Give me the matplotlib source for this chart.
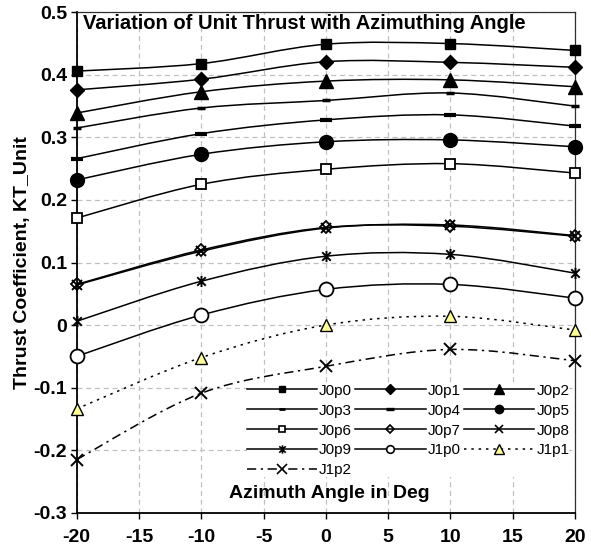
import matplotlib
matplotlib.use("Agg")
import matplotlib.pyplot as plt
import numpy as np
from matplotlib.path import Path
from matplotlib.patches import PathPatch
from matplotlib.lines import Line2D

plt.rcParams["font.family"] = ["Liberation Sans", "DejaVu Sans"]
plt.rcParams["axes.unicode_minus"] = False

# azimuth angle (deg) and thrust coefficient per advance ratio
angle = [-20, -10, 0, 10, 20]
J0p0 = [0.406, 0.418, 0.449, 0.450, 0.439]
J0p1 = [0.376, 0.393, 0.421, 0.420, 0.412]
J0p2 = [0.339, 0.373, 0.390, 0.392, 0.381]
J0p3 = [0.315, 0.347, 0.359, 0.371, 0.350]
J0p4 = [0.266, 0.306, 0.328, 0.336, 0.318]
J0p5 = [0.232, 0.273, 0.293, 0.296, 0.285]
J0p6 = [0.171, 0.225, 0.249, 0.258, 0.243]
J0p7 = [0.065, 0.120, 0.156, 0.158, 0.142]
J0p8 = [0.064, 0.118, 0.155, 0.160, 0.143]
J0p9 = [0.006, 0.070, 0.110, 0.113, 0.083]
J1p0 = [-0.050, 0.016, 0.057, 0.065, 0.043]
J1p1 = [-0.134, -0.052, 0.000, 0.014, -0.008]
J1p2 = [-0.215, -0.109, -0.066, -0.039, -0.057]

names = ["J0p0", "J0p1", "J0p2", "J0p3", "J0p4", "J0p5", "J0p6",
         "J0p7", "J0p8", "J0p9", "J1p0", "J1p1", "J1p2"]
series = [J0p0, J0p1, J0p2, J0p3, J0p4, J0p5, J0p6,
          J0p7, J0p8, J0p9, J1p0, J1p1, J1p2]

# asterisk marker: an x with a vertical bar through it
ASTER = Path([(-1, -1), (1, 1), (-1, 1), (1, -1), (0, -1.3), (0, 1.3)],
             [Path.MOVETO, Path.LINETO] * 3)

solid = "-"
dotted = (0, (1.6, 3.2))
dashdot = (0, (6, 3, 1.5, 3))

# marker, size, face, edge width, line style, legend marker size
STYLE = {
    "J0p0": ("s", 7, "black", 1.0, solid, 5),
    "J0p1": ("D", 7, "black", 1.0, solid, 5),
    "J0p2": ("^", 9.5, "black", 1.0, solid, 6.5),
    "J0p3": ("_", 6, "black", 2.5, solid, 4),
    "J0p4": ("_", 8, "black", 3.0, solid, 6),
    "J0p5": ("o", 10, "black", 1.0, solid, 6),
    "J0p6": ("s", 7, "white", 1.3, solid, 5),
    "J0p7": ("D", 6, "none", 1.3, solid, 4.5),
    "J0p8": ("x", 7.5, "black", 1.4, solid, 6),
    "J0p9": (ASTER, 8, "black", 1.4, solid, 6),
    "J1p0": ("o", 10, "white", 1.3, solid, 5.5),
    "J1p1": ("^", 9, "#ffff99", 1.0, dotted, 6.5),
    "J1p2": ("x", 9, "black", 1.4, dashdot, 7),
}


def smooth_path(x, y):
    # Bezier curve through every point, tangents from neighbouring points
    pts = np.column_stack([x, y]).astype(float)
    n = len(pts)
    verts = [pts[0]]
    codes = [Path.MOVETO]
    for i in range(n - 1):
        p0 = pts[max(i - 1, 0)]
        p1 = pts[i]
        p2 = pts[i + 1]
        p3 = pts[min(i + 2, n - 1)]
        c1 = p1 + (p2 - p0) / 6.0
        c2 = p2 - (p3 - p1) / 6.0
        verts += [c1, c2, p2]
        codes += [Path.CURVE4] * 3
    return Path(verts, codes)


fig = plt.figure(figsize=(5.91, 5.56), dpi=100)
ax = fig.add_axes([76.7 / 591, 1 - 512.7 / 556, 498.3 / 591, 500.4 / 556])

handles = []
for name, ys in zip(names, series):
    mk, ms, fc, mew, ls, lms = STYLE[name]
    ax.add_patch(PathPatch(smooth_path(angle, ys), fill=False,
                           edgecolor="black", lw=1.1, linestyle=ls,
                           zorder=3))
    ax.plot(angle, ys, linestyle="none", marker=mk, markersize=ms,
            markerfacecolor=fc, markeredgecolor="black",
            markeredgewidth=mew, zorder=4, clip_on=False)
    handles.append(Line2D([], [], color="black", lw=1.1, linestyle=ls,
                          marker=mk, markersize=lms, markerfacecolor=fc,
                          markeredgecolor="black",
                          markeredgewidth=min(mew, 1.2) if mk != "_" else mew * 0.8))

ax.set_xlim(-20, 20)
ax.set_ylim(-0.3, 0.5)
ax.set_xticks(np.arange(-20, 21, 5))
ax.set_yticks(np.arange(-0.3, 0.51, 0.1))
ax.set_yticklabels(["-0.3", "-0.2", "-0.1", "0", "0.1", "0.2", "0.3", "0.4", "0.5"])
ax.grid(True, color="#c0c0c0", linestyle=(0, (4, 3)), linewidth=0.9)
ax.set_axisbelow(True)
ax.tick_params(direction="out", length=4, width=1.0, color="black",
               labelsize=14)
ax.tick_params(axis="x", pad=8)
ax.tick_params(axis="y", pad=3)
for lab in ax.get_xticklabels() + ax.get_yticklabels():
    lab.set_fontweight("bold")
for side in ("left", "bottom"):
    ax.spines[side].set_linewidth(1.3)
for side in ("top", "right"):
    ax.spines[side].set_linewidth(0.9)
    ax.spines[side].set_color("#303030")

ax.set_ylabel("Thrust Coefficient, KT_Unit", fontsize=14,
              fontweight="bold", labelpad=2)
ax.text(0.0126, 0.9786, "Variation of Unit Thrust with Azimuthing Angle",
        transform=ax.transAxes, ha="left", va="center", fontsize=14.5,
        fontweight="bold", zorder=5)
ax.text(0.506, 0.0374, "Azimuth Angle in Deg", transform=ax.transAxes,
        ha="center", va="center", fontsize=14, fontweight="bold", zorder=5)

# legend filled row by row in three columns
order = [0, 3, 6, 9, 12, 1, 4, 7, 10, 2, 5, 8, 11]
leg = ax.legend([handles[i] for i in order], [names[i] for i in order],
                ncol=3, loc="upper left", bbox_to_anchor=(0.341, 0.258),
                fontsize=11, handlelength=4.6, handletextpad=0.15,
                columnspacing=0.2, labelspacing=0.39, borderpad=0.0,
                borderaxespad=0.0, frameon=True, fancybox=False)
leg.get_frame().set_facecolor("white")
leg.get_frame().set_edgecolor("none")
leg.get_frame().set_alpha(1.0)
leg.set_zorder(6)

fig.savefig("out.png", dpi=100)
